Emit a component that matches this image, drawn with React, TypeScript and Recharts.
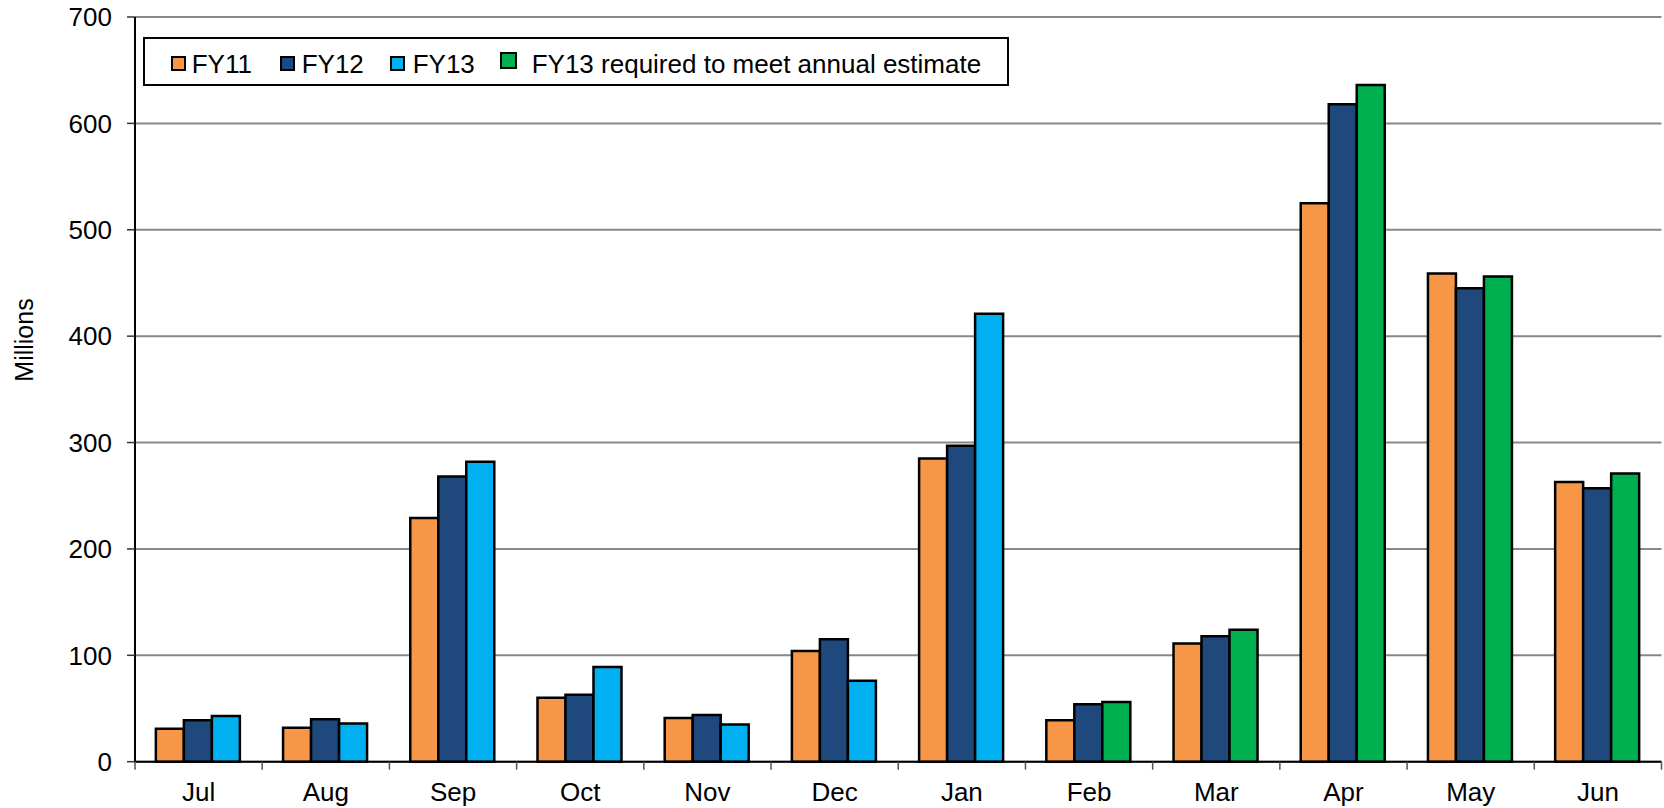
import { Bar, BarChart, CartesianGrid, Legend, XAxis, YAxis } from 'recharts'

const months = ['Jul', 'Aug', 'Sep', 'Oct', 'Nov', 'Dec', 'Jan', 'Feb', 'Mar', 'Apr', 'May', 'Jun']
const fy11 = [31, 32, 229, 60, 41, 104, 285, 39, 111, 525, 459, 263]
const fy12 = [39, 40, 268, 63, 44, 115, 297, 54, 118, 618, 445, 257]
const fy13 = [43, 36, 282, 89, 35, 76, 421, null, null, null, null, null]
const fy13Required = [null, null, null, null, null, null, null, 56, 124, 636, 456, 271]
const yTicks = [0, 100, 200, 300, 400, 500, 600, 700]

const colors = { fy11: '#F79646', fy12: '#1F497D', fy13: '#00B0F0', fy13Required: '#00B050' }

const WIDTH = 1664
const HEIGHT = 808
const X_AXIS_H = 46.3
const MARGIN = { top: 17, right: 2.5, bottom: 0, left: 0 }
const Y_AXIS_W = 135
const AXIS_Y = HEIGHT - X_AXIS_H
const BAND = (WIDTH - MARGIN.right - Y_AXIS_W) / months.length
const FONT = '"Liberation Sans", Arial, sans-serif'

const data = months.map((month, i) => ({
  month,
  fy11: fy11[i],
  fy12: fy12[i],
  fy13: fy13[i],
  fy13Required: fy13Required[i],
}))

function MonthTick({ x, payload, index }: any) {
  const left = x - BAND / 2
  return (
    <g>
      <line x1={left} x2={left} y1={AXIS_Y} y2={AXIS_Y + 8} stroke="#555" strokeWidth={1.5} />
      {index === months.length - 1 ? (
        <line x1={x + BAND / 2} x2={x + BAND / 2} y1={AXIS_Y} y2={AXIS_Y + 8} stroke="#555" strokeWidth={1.5} />
      ) : null}
      <text x={x} y={801} textAnchor="middle" fontSize={26} fill="#000" fontFamily={FONT}>{payload.value}</text>
    </g>
  )
}

function MillionsLabel() {
  return (
    <text transform="translate(33, 340) rotate(-90)" textAnchor="middle" fontSize={25} fill="#000" fontFamily={FONT}>Millions</text>
  )
}

function ChartLegend() {
  const text = { fontSize: 26, fill: '#000', fontFamily: FONT }
  return (
    <svg width={866} height={49} style={{ display: 'block' }}>
      <rect x={1} y={1} width={864} height={47} fill="#fff" stroke="#000" strokeWidth={2} />
      <rect x={29} y={20} width={13} height={13} fill={colors.fy11} stroke="#000" strokeWidth={2} />
      <text x={48.7} y={36.3} {...text}>FY11</text>
      <rect x={138} y={20} width={13} height={13} fill={colors.fy12} stroke="#000" strokeWidth={2} />
      <text x={158.7} y={36.3} {...text}>FY12</text>
      <rect x={248} y={20} width={13} height={13} fill={colors.fy13} stroke="#000" strokeWidth={2} />
      <text x={269.7} y={36.3} {...text}>FY13</text>
      <rect x={358} y={16} width={15} height={15} fill={colors.fy13Required} stroke="#000" strokeWidth={2} />
      <text x={388.7} y={36.3} {...text}>FY13 required to meet annual estimate</text>
    </svg>
  )
}

export default function App() {
  return (
    <div style={{ position: 'absolute', left: 0, top: 0, background: '#fff' }}>
      <BarChart width={WIDTH} height={HEIGHT} data={data} margin={MARGIN} barCategoryGap="16.4%" barGap={0}>
        <CartesianGrid vertical={false} stroke="#888" strokeWidth={2} />
        <XAxis dataKey="month" interval={0} axisLine={{ stroke: '#000', strokeWidth: 2 }} tickLine={false} tick={<MonthTick />} height={X_AXIS_H} />
        <XAxis xAxisId="top" dataKey="month" orientation="top" height={0} tick={false} tickLine={false} axisLine={{ stroke: '#000', strokeWidth: 2 }} />
        <YAxis
          width={Y_AXIS_W}
          domain={[0, 700]}
          ticks={yTicks}
          interval={0}
          tickSize={8}
          tickMargin={15}
          axisLine={{ stroke: '#000', strokeWidth: 2 }}
          tickLine={{ stroke: '#333', strokeWidth: 1.5 }}
          tick={{ fontSize: 26, fill: '#000', fontFamily: FONT }}
          label={<MillionsLabel />}
        />
        <YAxis yAxisId="right" orientation="right" width={0} domain={[0, 700]} tick={false} tickLine={false} axisLine={{ stroke: '#000', strokeWidth: 2 }} />
        <Legend verticalAlign="middle" layout="horizontal" content={<ChartLegend />} wrapperStyle={{ position: 'absolute', left: 143, top: 37, width: 866, height: 49, margin: 0, padding: 0 }} />
        <Bar dataKey="fy11" name="FY11" stackId="a" fill={colors.fy11} stroke="#000" strokeWidth={2.5} isAnimationActive={false} />
        <Bar dataKey="fy12" name="FY12" stackId="b" fill={colors.fy12} stroke="#000" strokeWidth={2.5} isAnimationActive={false} />
        <Bar dataKey="fy13" name="FY13" stackId="c" fill={colors.fy13} stroke="#000" strokeWidth={2.5} isAnimationActive={false} />
        <Bar dataKey="fy13Required" name="FY13 required to meet annual estimate" stackId="c" fill={colors.fy13Required} stroke="#000" strokeWidth={2.5} isAnimationActive={false} />
      </BarChart>
    </div>
  )
}
